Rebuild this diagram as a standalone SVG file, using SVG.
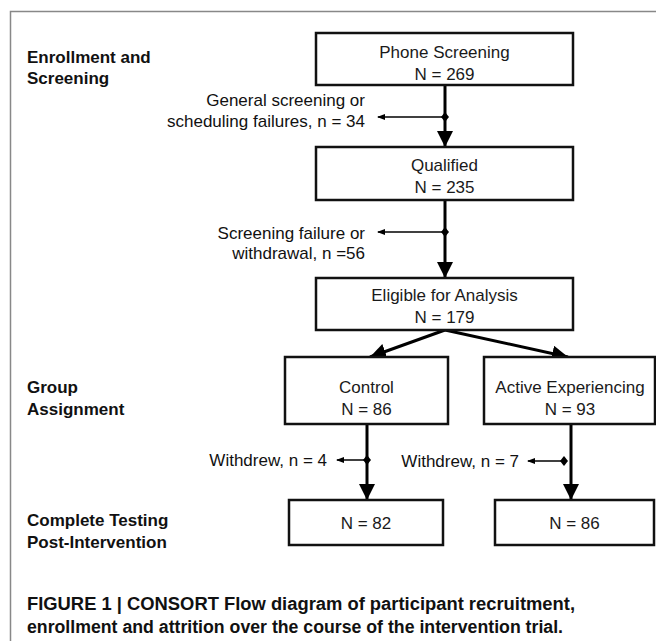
<svg xmlns="http://www.w3.org/2000/svg" width="656" height="641" viewBox="0 0 656 641">
<defs>
<style>
.box{fill:#fff;stroke:#111;stroke-width:2.5}
.bt{font-family:"Liberation Sans",Arial,sans-serif;font-size:17px;fill:#1a1a1a;text-anchor:middle}
.lab{font-family:"Liberation Sans",Arial,sans-serif;font-size:17px;font-weight:bold;fill:#111}
.side{font-family:"Liberation Sans",Arial,sans-serif;font-size:17px;fill:#111;text-anchor:end}
.cap{font-family:"Liberation Sans",Arial,sans-serif;font-size:18px;font-weight:bold;fill:#111}
.main{stroke:#000;stroke-width:3;fill:none;marker-end:url(#big)}
.thin{stroke:#000;stroke-width:1.5;fill:none;marker-start:url(#dia);marker-end:url(#small)}
</style>
<marker id="big" markerUnits="userSpaceOnUse" markerWidth="16" markerHeight="16" viewBox="0 0 16 16" refX="16" refY="8" orient="auto">
<path d="M0,0 L16,8 L0,16 Z" fill="#000"/>
</marker>
<marker id="small" markerUnits="userSpaceOnUse" markerWidth="8" markerHeight="8" viewBox="0 0 8 8" refX="7" refY="4" orient="auto">
<path d="M0,1 L8,4 L0,7 Z" fill="#000"/>
</marker>
<marker id="dia" markerUnits="userSpaceOnUse" markerWidth="8" markerHeight="10" viewBox="0 0 8 10" refX="4" refY="5" orient="auto">
<path d="M4,0 L8,5 L4,10 L0,5 Z" fill="#000"/>
</marker>
</defs>
<rect width="656" height="641" fill="#fff"/>
<path d="M10.5,641 V11.5 H656" fill="none" stroke="#888" stroke-width="1.5"/>

<g id="stage-labels">
<text class="lab" x="27" y="63">Enrollment and</text>
<text class="lab" x="27" y="84">Screening</text>
<text class="lab" x="27" y="393">Group</text>
<text class="lab" x="27" y="415">Assignment</text>
<text class="lab" x="27" y="526">Complete Testing</text>
<text class="lab" x="27" y="548">Post-Intervention</text>
</g>

<g id="connectors">
<line class="main" x1="445" y1="85" x2="445" y2="147"/>
<line class="main" x1="445" y1="200" x2="445" y2="278"/>
<line class="main" x1="445" y1="330" x2="370" y2="357"/>
<line class="main" x1="445" y1="330" x2="568" y2="357"/>
<line class="main" x1="367" y1="424" x2="367" y2="500"/>
<line class="main" x1="571" y1="424" x2="571" y2="500"/>
<line class="thin" x1="445" y1="117" x2="378" y2="117"/>
<line class="thin" x1="445" y1="232" x2="378" y2="232"/>
<line class="thin" x1="367" y1="460" x2="337" y2="460"/>
<line class="thin" x1="564" y1="461" x2="528" y2="461"/>
</g>

<g id="n-phone">
<rect class="box" x="316" y="33" width="257" height="52"/>
<text class="bt" x="444.5" y="58">Phone Screening</text>
<text class="bt" x="444.5" y="80">N = 269</text>
</g>
<g id="n-qualified">
<rect class="box" x="316" y="147" width="257" height="53"/>
<text class="bt" x="444.5" y="171">Qualified</text>
<text class="bt" x="444.5" y="193">N = 235</text>
</g>
<g id="n-eligible">
<rect class="box" x="316" y="278" width="257" height="52"/>
<text class="bt" x="444.5" y="301">Eligible for Analysis</text>
<text class="bt" x="444.5" y="323">N = 179</text>
</g>
<g id="n-control">
<rect class="box" x="285" y="357" width="163" height="67"/>
<text class="bt" x="366.5" y="393">Control</text>
<text class="bt" x="366.5" y="415">N = 86</text>
</g>
<g id="n-active">
<rect class="box" x="484" y="357" width="171" height="67"/>
<text class="bt" x="570" y="393">Active Experiencing</text>
<text class="bt" x="570" y="415">N = 93</text>
</g>
<g id="n-control-post">
<rect class="box" x="289" y="500" width="154" height="45"/>
<text class="bt" x="366" y="529">N = 82</text>
</g>
<g id="n-active-post">
<rect class="box" x="495" y="500" width="159" height="45"/>
<text class="bt" x="574.5" y="529">N = 86</text>
</g>

<g id="side-labels">
<text class="side" x="365" y="106">General screening or</text>
<text class="side" x="365" y="127">scheduling failures, n = 34</text>
<text class="side" x="365" y="239">Screening failure or</text>
<text class="side" x="365" y="259">withdrawal, n =56</text>
<text class="side" x="327" y="466">Withdrew, n = 4</text>
<text class="side" x="519" y="467">Withdrew, n = 7</text>
</g>

<g id="caption">
<text class="cap" x="27" y="610" textLength="548" lengthAdjust="spacingAndGlyphs">FIGURE 1 | CONSORT Flow diagram of participant recruitment,</text>
<text class="cap" x="27" y="633" textLength="536" lengthAdjust="spacingAndGlyphs">enrollment and attrition over the course of the intervention trial.</text>
</g>
</svg>
